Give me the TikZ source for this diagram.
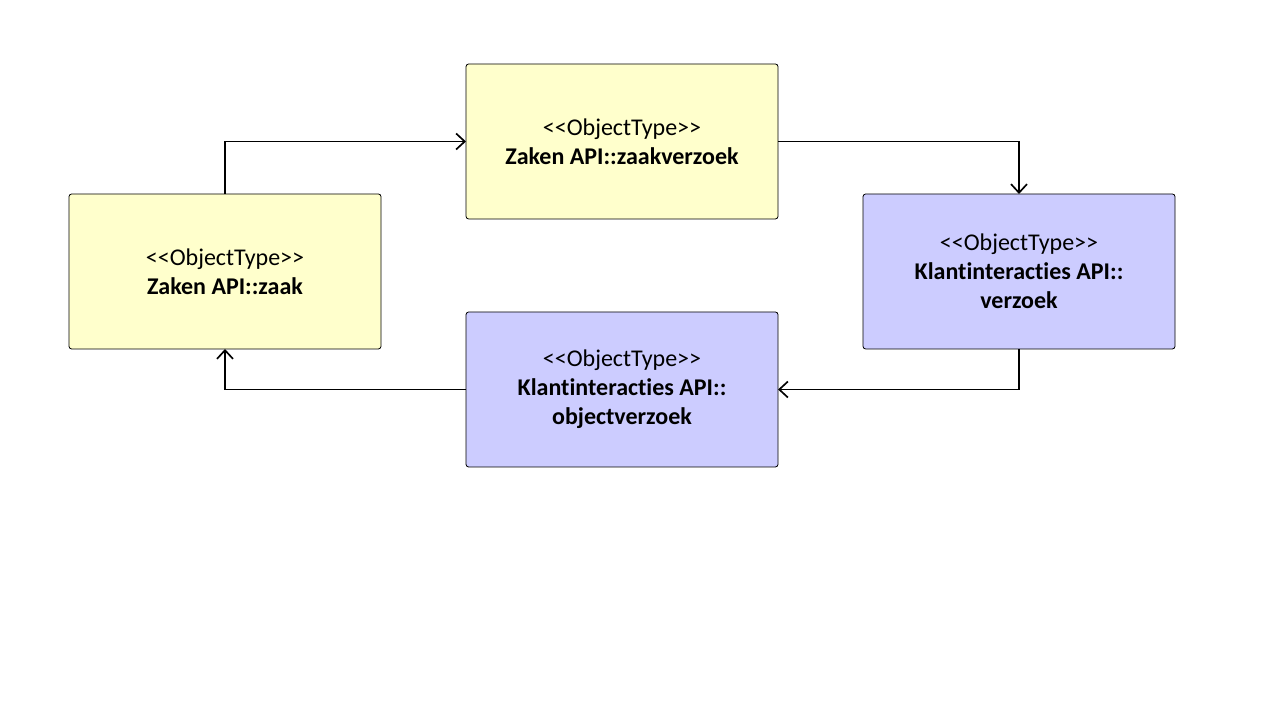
\documentclass[tikz,border=0pt]{standalone}
\usepackage{fontspec}
\setmainfont{Carlito}[Ligatures=NoCommon]
\usetikzlibrary{positioning,arrows.meta}

\definecolor{zakengeel}{HTML}{FFFFCC}
\definecolor{klantpaars}{HTML}{CCCCFF}

\begin{document}
\begin{tikzpicture}[node distance={63.75pt},
    obj/.style = {draw, rounded corners=2pt, line width=0.6pt, outer sep=0pt, minimum width=234pt, minimum height=116.25pt, align=center, font=\fontsize{18}{21.75}\selectfont},
    link/.style = {draw, line width=1.25pt, -{Straight Barb[length=6.5pt,width=12pt,line width=1.25pt]}}]
    \useasboundingbox (0,0) rectangle (960pt,540pt);
    \node[obj, fill=zakengeel] (zaak) at (168.75pt,336.375pt) {{<}{<}ObjectType{>}{>}\\\textbf{Zaken API::zaak}};
    \node[obj, fill=zakengeel] (zaakverzoek) [right=of zaak, yshift=97.5pt] {{<}{<}ObjectType{>}{>}\\\textbf{Zaken API::zaakverzoek}};
    \node[obj, fill=klantpaars] (verzoek) [right=of zaakverzoek, yshift=-97.5pt] {{<}{<}ObjectType{>}{>}\\\textbf{Klantinteracties API::}\\\textbf{verzoek}};
    \node[obj, fill=klantpaars] (objectverzoek) [below=69.75pt of zaakverzoek] {{<}{<}ObjectType{>}{>}\\\textbf{Klantinteracties API::}\\\textbf{objectverzoek}};
    \draw[link] (zaak.north) |- (zaakverzoek.west);
    \draw[link] (zaakverzoek.east) -| (verzoek.north);
    \draw[link] (verzoek.south) |- (objectverzoek.east);
    \draw[link] (objectverzoek.west) -| (zaak.south);
\end{tikzpicture}
\end{document}
